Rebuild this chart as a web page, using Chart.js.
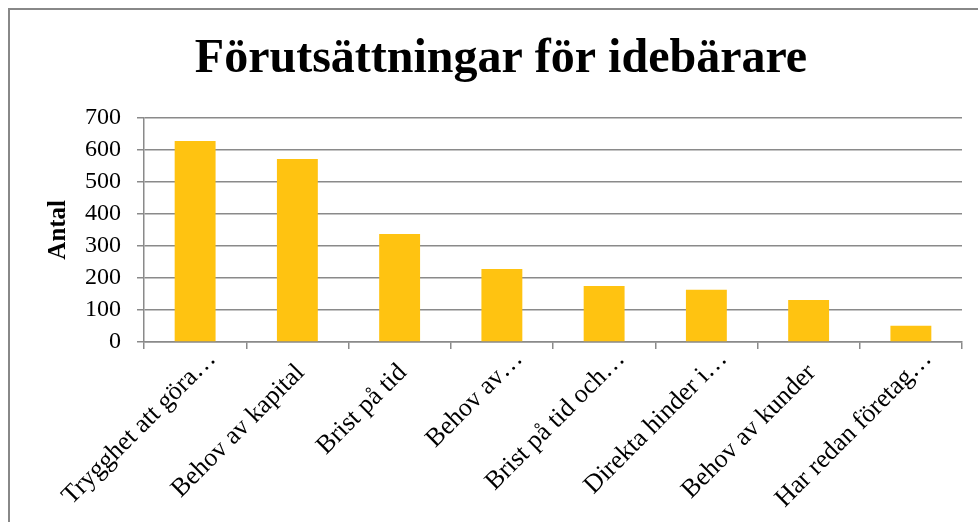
<!DOCTYPE html>
<html>
<head>
<meta charset="utf-8">
<script src="https://cdn.jsdelivr.net/npm/chart.js@4.4.0/dist/chart.umd.min.js"></script>
<style>
  html, body { margin: 0; padding: 0; background: #fff; overflow: hidden; }
  #frame { position: absolute; left: 8px; top: 8px; width: 1100px; height: 700px; border: 2px solid #888; box-sizing: border-box; }
  #wrap { position: absolute; left: 0; top: 0; width: 978px; height: 522px; }
</style>
</head>
<body>
<div id="frame"></div>
<div id="wrap"><canvas id="c" width="978" height="522"></canvas></div>
<script>
const categories = [
  "Trygghet att göra…",
  "Behov av kapital",
  "Brist på tid",
  "Behov av…",
  "Brist på tid och…",
  "Direkta hinder i…",
  "Behov av kunder",
  "Har redan företag…"
];
const antal = [627, 571, 337, 228, 175, 163, 131, 51];
const yTicks = [0, 100, 200, 300, 400, 500, 600, 700];
const chartTitle = "Förutsättningar för idebärare";
const yTitle = "Antal";

const serif = "'Liberation Serif', 'Times New Roman', serif";
const gridColor = '#8a8a8a';

new Chart(document.getElementById('c'), {
  type: 'bar',
  data: {
    labels: categories,
    datasets: [{
      data: antal,
      backgroundColor: '#FFC311',
      borderWidth: 0,
      categoryPercentage: 1.0,
      barPercentage: 0.4
    }]
  },
  options: {
    responsive: false,
    animation: false,
    devicePixelRatio: 1,
    layout: { padding: { left: 40, right: 16, top: 0, bottom: 0 } },
    plugins: {
      legend: { display: false },
      tooltip: { enabled: false },
      title: {
        display: true,
        text: chartTitle,
        color: '#000',
        font: { family: serif, size: 48, weight: 'bold' },
        padding: { top: 31, bottom: 29 }
      }
    },
    scales: {
      x: {
        offset: true,
        grid: {
          offset: true,
          drawOnChartArea: false,
          drawTicks: true,
          tickLength: 7,
          color: gridColor,
          lineWidth: 1.5
        },
        border: { display: true, color: gridColor, width: 1.5 },
        ticks: {
          autoSkip: false,
          minRotation: 45,
          maxRotation: 45,
          labelOffset: 17,
          padding: -5,
          color: '#000',
          font: { family: serif, size: 26 },
          callback: function (v, i) {
            const t = this.getLabelForValue(v);
            // full (non-truncated) labels sit further along their axis than the truncated ones
            return t.endsWith('…') ? t : t + '\u00A0\u00A0\u00A0';
          }
        },
        afterFit: (s) => { s.height = 180; }
      },
      y: {
        min: 0,
        max: 700,
        afterBuildTicks: (s) => { s.ticks = yTicks.map(v => ({ value: v })); },
        grid: {
          color: gridColor,
          lineWidth: 1.5,
          tickLength: 7,
          drawTicks: true
        },
        border: { display: true, color: gridColor, width: 1.5 },
        ticks: {
          padding: 16,
          color: '#000',
          font: { family: serif, size: 24 }
        },
        title: {
          display: true,
          text: yTitle,
          color: '#000',
          font: { family: serif, size: 25, weight: 'bold' },
          padding: { top: 4, bottom: 0 }
        },
        afterFit: (s) => { s.width = 104; }
      }
    }
  }
});
</script>
</body>
</html>
